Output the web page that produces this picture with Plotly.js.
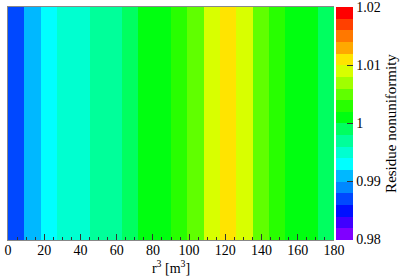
<!DOCTYPE html>
<html>
<head>
<meta charset="utf-8">
<script src="https://cdn.plot.ly/plotly-3.0.1.min.js"></script>
<style>
  html, body { margin: 0; padding: 0; background: #fff; }
  #chart { width: 407px; height: 276px; }
</style>
</head>
<body>
<div id="chart"></div>
<script>
// ---- data ----
// bin centres of r^3 (bins of 9 m^3 from 0 to 180)
const r3Centers = [4.5, 13.5, 22.5, 31.5, 40.5, 49.5, 58.5, 67.5, 76.5, 85.5,
                   94.5, 103.5, 112.5, 121.5, 130.5, 139.5, 148.5, 157.5, 166.5, 175.5];
const residue = [0.987, 0.991, 0.993, 0.9945, 0.9955, 0.997, 0.997, 0.999, 1.001, 1.001,
                 1.003, 1.005, 1.009, 1.011, 1.009, 1.005, 1.003, 1.001, 1.001, 0.999];
const xTicks = [0, 20, 40, 60, 80, 100, 120, 140, 160, 180];
const zTicks = [0.98, 0.99, 1, 1.01, 1.02];
const zTickText = ["0.98", "0.99", "1", "1.01", "1.02"];

// 20-level rainbow palette, bottom (0.98) to top (1.02)
const palette = ["#8000ff", "#4000ff", "#0010ff", "#0048ff", "#0088ff",
                 "#00b8ff", "#00ffff", "#00ffd0", "#00ff9a", "#00ff60",
                 "#00ff10", "#28ff00", "#60ff00", "#a0ff00", "#d8ff00",
                 "#ffe400", "#ffa800", "#ff7800", "#ff4000", "#ff0000"];

// step colorscale so each contour band is flat
function stepScale(cols){
  const out = [];
  const n = cols.length;
  cols.forEach((c, i) => {
    out.push([i / n, c]);
    out.push([(i + 1) / n, c]);
  });
  return out;
}

const font = { family: "Liberation Serif, serif", size: 14, color: "#000" };
const titleFont = { family: "Liberation Serif, serif", size: 15, color: "#000" };

const data = [{
  type: "heatmap",
  x: r3Centers,
  y: [0.5],
  z: [residue],
  zmin: 0.9799,
  zmax: 1.0201,
  colorscale: stepScale(palette),
  hoverinfo: "skip",
  colorbar: {
    thickness: 17,
    thicknessmode: "pixels",
    len: 1,
    lenmode: "fraction",
    x: 1.006,
    xanchor: "left",
    y: 0.5,
    yanchor: "middle",
    xpad: 0,
    ypad: 0,
    outlinewidth: 0,
    ticks: "inside",
    ticklen: 6,
    tickcolor: "#333",
    tickvals: zTicks,
    ticktext: zTickText,
    tickfont: font,
    title: { text: "Residue nonuniformity", side: "right", font: titleFont }
  }
}];

const layout = {
  width: 407,
  height: 276,
  margin: { l: 8, r: 73, t: 7, b: 36 },
  paper_bgcolor: "#fff",
  plot_bgcolor: "#fff",
  font: font,
  showlegend: false,
  xaxis: {
    range: [0, 180],
    tickvals: xTicks,
    ticks: "inside",
    ticklen: 6,
    tickcolor: "#333",
    tickfont: font,
    ticklabelstandoff: -3,
    showgrid: false,
    zeroline: false,
    showline: true,
    linecolor: "#888",
    linewidth: 1,
    mirror: true,
    minor: { dtick: 5, ticks: "inside", ticklen: 3, tickcolor: "#333" },
    title: { text: "r<sup>3</sup> [m<sup>3</sup>]", font: font, standoff: 1 }
  },
  yaxis: {
    range: [0, 1],
    showticklabels: false,
    ticks: "",
    showgrid: false,
    zeroline: false,
    showline: true,
    linecolor: "#888",
    linewidth: 1
  }
};

Plotly.newPlot("chart", data, layout, { displayModeBar: false, staticPlot: true });
</script>
</body>
</html>
